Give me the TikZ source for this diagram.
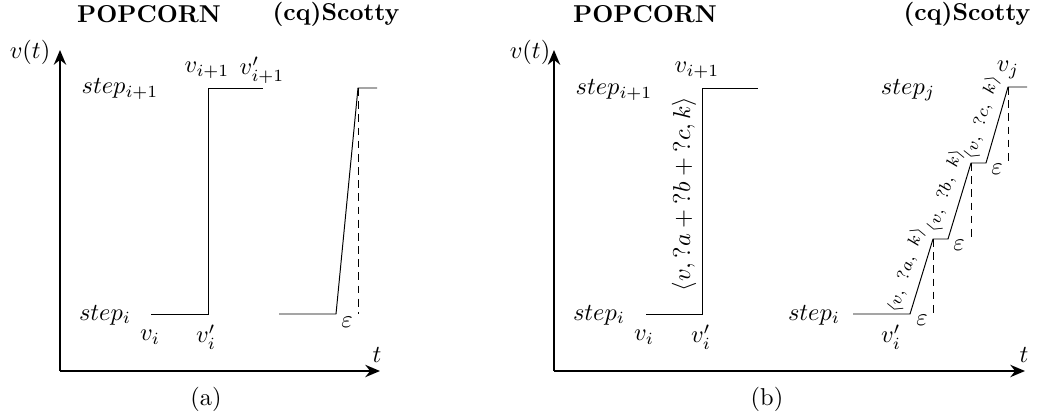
\documentclass[tikz,border=0pt]{standalone}
\usetikzlibrary{arrows.meta}
\begin{document}
\begin{tikzpicture}[x=0.41pt,y=-0.41pt,
  axis/.style={line width=1pt,-{Stealth[length=6pt,width=5pt]}},
  lvl/.style={line width=0.4pt},
  dsh/.style={line width=0.4pt,dash pattern=on 3.2pt off 2.2pt},
  ttl/.style={font=\bfseries,inner sep=0pt},
  lbl/.style={inner sep=0pt},
  slab/.style={font=\scriptsize,sloped,above,inner sep=3pt}]
\useasboundingbox (0,0) rectangle (1038,418);
% ---------------- panel (a)
\coordinate (aO) at (60,371);
\coordinate (aY) at (60,50);
\coordinate (aX) at (380,371);
\draw[axis] (aO) -- (aY);
\draw[axis] (aO) -- (aX);
\node[lbl] (avt) at (30,52) {$v(t)$};
\node[lbl] (at) at (377,355) {$t$};
\node[lbl] (acap) at (206,399) {(a)};
\node[ttl] (apop) at (149,14) {POPCORN};
\node[ttl] (asc) at (336,14) {(cq)Scotty};
% popcorn a
\coordinate (ap1) at (151,314);
\coordinate (ap2) at (208,314);
\coordinate (ap3) at (208,88);
\coordinate (ap4) at (263,88);
\draw[lvl] (ap1) -- (ap2) -- (ap3) -- (ap4);
% scotty a
\coordinate (as1) at (279,314);
\coordinate (as2) at (336,314);
\coordinate (as3) at (358,88);
\coordinate (as4) at (377,88);
\coordinate (as5) at (358,314);
\draw[lvl] (as1) -- (as2) -- (as3) -- (as4);
\draw[dsh] (as3) -- (as5);
% labels a
\node[lbl] (asti1) at (120,89) {$step_{i+1}$};
\node[lbl] (asti) at (105,315) {$step_i$};
\node[lbl] (avi) at (150,337) {$v_i$};
\node[lbl] (avip) at (206,337) {$v'_i$};
\node[lbl] (avi1) at (207,70) {$v_{i+1}$};
\node[lbl] (avi1p) at (262,70) {$v'_{i+1}$};
\node[lbl] (aeps) at (347,322) {$\varepsilon$};
% ---------------- panel (b)
\coordinate (bO) at (554,371);
\coordinate (bY) at (554,50);
\coordinate (bX) at (1025,371);
\draw[axis] (bO) -- (bY);
\draw[axis] (bO) -- (bX);
\node[lbl] (bvt) at (530,52) {$v(t)$};
\node[lbl] (bt) at (1024,355) {$t$};
\node[lbl] (bcap) at (767,399) {(b)};
\node[ttl] (bpop) at (645,14) {POPCORN};
\node[ttl] (bsc) at (967,14) {(cq)Scotty};
% popcorn b
\coordinate (bp1) at (646,314);
\coordinate (bp2) at (702,314);
\coordinate (bp3) at (702,88);
\coordinate (bp4) at (758,88);
\draw[lvl] (bp1) -- (bp2) -- (bp3) -- (bp4);
\node[lbl,rotate=90] (bplab) at (684,194) {$\langle v, {?}a + {?}b + {?}c, k\rangle$};
\node[lbl] (bsti1) at (614,90) {$step_{i+1}$};
\node[lbl] (bsti) at (599,315) {$step_i$};
\node[lbl] (bvi) at (644,337) {$v_i$};
\node[lbl] (bvip) at (701,337) {$v'_i$};
\node[lbl] (bvi1) at (697,70) {$v_{i+1}$};
% scotty b
\coordinate (bs1) at (853,314);
\coordinate (bs2) at (910,314);
\coordinate (bs3) at (933,239);
\coordinate (bs4) at (948,239);
\coordinate (bs5) at (971,163);
\coordinate (bs6) at (986,163);
\coordinate (bs7) at (1008,87);
\coordinate (bs8) at (1027,87);
\coordinate (bd1) at (933,314);
\coordinate (bd2) at (971,239);
\coordinate (bd3) at (1008,163);
\draw[lvl] (bs1) -- (bs2)
  -- node[slab,pos=0.52] (la) {$\langle v,\ ?a,\ k\rangle$} (bs3) -- (bs4)
  -- node[slab,pos=0.57] (lb) {$\langle v,\ ?b,\ k\rangle$} (bs5) -- (bs6)
  -- node[slab,pos=0.54] (lc) {$\langle v,\ ?c,\ k\rangle$} (bs7) -- (bs8);
\draw[dsh] (bs3) -- (bd1);
\draw[dsh] (bs5) -- (bd2);
\draw[dsh] (bs7) -- (bd3);
\node[lbl] (bstj) at (814,315) {$step_i$};
\node[lbl] (bvjp) at (891,337) {$v'_i$};
\node[lbl] (beps1) at (922,320) {$\varepsilon$};
\node[lbl] (beps2) at (959,245) {$\varepsilon$};
\node[lbl] (beps3) at (997,169) {$\varepsilon$};
\node[lbl] (bstjj) at (908,90) {$step_j$};
\node[lbl] (bvj) at (1008,70) {$v_j$};
\end{tikzpicture}
\end{document}
